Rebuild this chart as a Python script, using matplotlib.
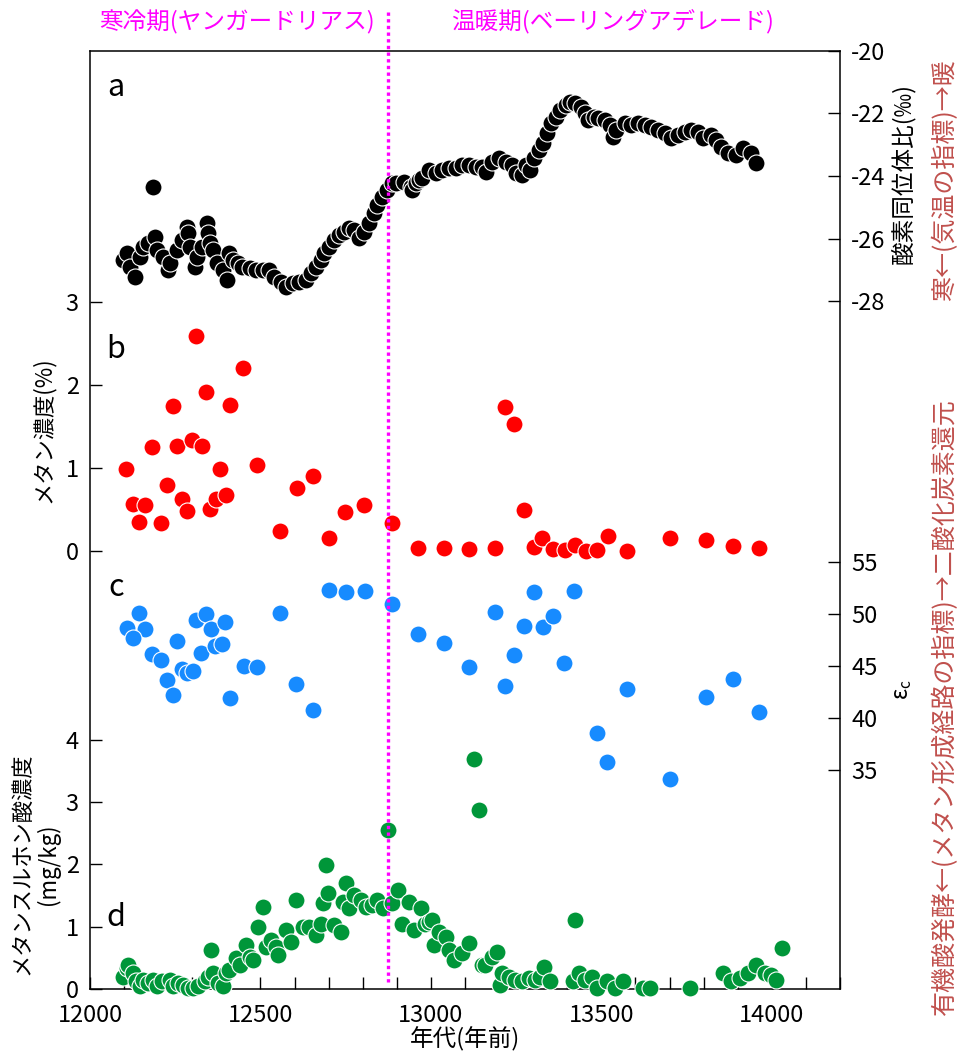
import matplotlib
matplotlib.use("Agg")
import matplotlib.pyplot as plt
import matplotlib.transforms as mtransforms
from matplotlib.lines import Line2D
from matplotlib.ticker import MultipleLocator

plt.rcParams['font.family'] = ['Noto Sans CJK JP', 'DejaVu Sans']
plt.rcParams['axes.unicode_minus'] = False

# a: oxygen isotope ratio (per mil)
years_a = [12096, 12108, 12117, 12132, 12146, 12155, 12170, 12184, 12190, 12196,
           12213, 12228, 12234, 12254, 12269, 12284, 12287, 12292, 12307, 12313,
           12327, 12342, 12345, 12351, 12360, 12371, 12389, 12401, 12409, 12418,
           12433, 12447, 12468, 12488, 12506, 12526, 12541, 12561, 12576, 12594,
           12614, 12634, 12649, 12664, 12678, 12687, 12702, 12716, 12731, 12746,
           12760, 12775, 12789, 12804, 12819, 12833, 12842, 12857, 12871, 12886,
           12898, 12921, 12942, 12944, 12956, 12965, 12974, 12994, 13015, 13032,
           13053, 13073, 13091, 13111, 13132, 13149, 13161, 13178, 13199, 13219,
           13237, 13249, 13266, 13278, 13292, 13301, 13316, 13330, 13339, 13351,
           13366, 13380, 13395, 13409, 13424, 13439, 13453, 13462, 13477, 13491,
           13512, 13526, 13535, 13544, 13570, 13588, 13608, 13629, 13646, 13667,
           13687, 13705, 13725, 13746, 13763, 13784, 13798, 13822, 13836, 13851,
           13871, 13895, 13915, 13939, 13953]
d18o = [-26.69, -26.46, -26.91, -27.23, -26.59, -26.27, -26.14, -24.35, -25.95, -26.37,
        -26.59, -27.01, -26.78, -26.37, -26.05, -25.63, -25.82, -26.27, -26.91, -26.59,
        -26.27, -25.50, -25.82, -26.14, -26.37, -26.78, -27.01, -27.33, -26.46, -26.69,
        -26.78, -26.91, -26.94, -27.01, -27.01, -27.01, -27.23, -27.39, -27.55, -27.42,
        -27.39, -27.33, -27.10, -26.91, -26.69, -26.46, -26.27, -26.05, -25.89, -25.79,
        -25.66, -25.73, -25.98, -25.79, -25.50, -25.18, -24.93, -24.67, -24.45, -24.22,
        -24.22, -24.19, -24.35, -24.45, -24.22, -24.13, -24.06, -23.81, -23.90, -23.81,
        -23.74, -23.74, -23.65, -23.65, -23.71, -23.71, -23.87, -23.55, -23.42, -23.55,
        -23.65, -23.90, -23.97, -23.65, -23.81, -23.42, -23.17, -22.94, -22.62, -22.30,
        -22.11, -21.89, -21.73, -21.63, -21.66, -21.79, -21.98, -22.21, -22.11, -22.14,
        -22.21, -22.37, -22.75, -22.53, -22.30, -22.37, -22.30, -22.37, -22.43, -22.53,
        -22.62, -22.78, -22.69, -22.59, -22.53, -22.59, -22.78, -22.69, -22.85, -23.07,
        -23.26, -23.33, -23.10, -23.26, -23.58]

# b: methane concentration (%)
years_b = [12105, 12125, 12144, 12161, 12183, 12207, 12226, 12242, 12255, 12271,
           12285, 12300, 12310, 12327, 12339, 12353, 12370, 12382, 12400, 12411,
           12450, 12490, 12558, 12606, 12653, 12702, 12749, 12805, 12887, 12963,
           13038, 13113, 13187, 13216, 13243, 13272, 13301, 13327, 13358, 13392,
           13423, 13455, 13488, 13518, 13574, 13701, 13808, 13885, 13962]
methane = [0.99, 0.57, 0.35, 0.55, 1.25, 0.34, 0.79, 1.75, 1.26, 0.63,
           0.48, 1.34, 2.59, 1.26, 1.92, 0.51, 0.62, 0.99, 0.67, 1.76,
           2.20, 1.04, 0.24, 0.76, 0.90, 0.16, 0.47, 0.55, 0.34, 0.04,
           0.03, 0.02, 0.03, 1.73, 1.53, 0.49, 0.05, 0.16, 0.02, 0.01,
           0.07, 0.00, 0.01, 0.18, 0.00, 0.16, 0.13, 0.06, 0.03]

# c: epsilon_c
years_c = [12144, 12107, 12161, 12125, 12183, 12208, 12255, 12227, 12242, 12271,
           12285, 12302, 12326, 12310, 12341, 12354, 12368, 12387, 12397, 12411,
           12451, 12490, 12558, 12605, 12653, 12702, 12750, 12806, 12887, 12963,
           13038, 13113, 13187, 13216, 13243, 13272, 13301, 13328, 13358, 13390,
           13421, 13486, 13517, 13574, 13701, 13808, 13885, 13962]
eps_c = [50.11, 48.67, 48.55, 47.71, 46.12, 45.58, 47.40, 43.66, 42.22, 44.68,
         44.30, 44.52, 46.22, 49.41, 49.96, 48.55, 46.95, 47.11, 49.25, 41.90,
         45.00, 44.88, 50.05, 43.24, 40.78, 52.29, 52.07, 52.19, 50.92, 48.04,
         47.23, 44.88, 50.21, 43.11, 46.05, 48.84, 52.07, 48.71, 49.82, 45.26,
         52.22, 38.61, 35.77, 42.80, 34.17, 42.06, 43.78, 40.59]

# d: methanesulfonic acid (mg/kg)
years_d = [12097, 12107, 12112, 12127, 12136, 12146, 12156, 12171, 12185, 12195,
           12210, 12234, 12244, 12258, 12273, 12287, 12302, 12317, 12336, 12346,
           12356, 12361, 12375, 12390, 12400, 12409, 12429, 12439, 12458, 12468,
           12477, 12492, 12507, 12517, 12531, 12546, 12551, 12575, 12590, 12604,
           12624, 12643, 12663, 12677, 12682, 12692, 12697, 12716, 12736, 12741,
           12751, 12760, 12775, 12794, 12809, 12828, 12843, 12858, 12875, 12887,
           12902, 12916, 12936, 12950, 12970, 12984, 12994, 13004, 13009, 13023,
           13043, 13053, 13067, 13092, 13111, 13126, 13140, 13150, 13160, 13179,
           13194, 13204, 13208, 13228, 13248, 13267, 13287, 13306, 13321, 13333,
           13350, 13418, 13423, 13433, 13452, 13472, 13486, 13516, 13540, 13564,
           13623, 13642, 13759, 13857, 13881, 13906, 13930, 13954, 13979, 13998,
           14013, 14030]
msa = [0.20, 0.33, 0.39, 0.25, 0.12, 0.04, 0.14, 0.09, 0.14, 0.04,
       0.12, 0.14, 0.04, 0.09, 0.06, 0.01, 0.01, 0.04, 0.12, 0.20,
       0.63, 0.25, 0.09, 0.04, 0.25, 0.30, 0.49, 0.39, 0.71, 0.52,
       0.47, 1.00, 1.32, 0.68, 0.79, 0.68, 0.55, 0.95, 0.76, 1.43,
       1.00, 1.00, 0.87, 1.05, 1.38, 1.99, 1.54, 1.03, 0.92, 1.40,
       1.70, 1.30, 1.51, 1.43, 1.32, 1.35, 1.43, 1.30, 2.55, 1.38,
       1.59, 1.05, 1.40, 0.95, 1.30, 1.05, 1.08, 1.11, 0.71, 0.92,
       0.84, 0.63, 0.47, 0.57, 0.73, 3.70, 2.87, 0.39, 0.39, 0.52,
       0.60, 0.06, 0.25, 0.20, 0.14, 0.12, 0.17, 0.14, 0.20, 0.36,
       0.12, 0.12, 1.11, 0.25, 0.14, 0.20, 0.01, 0.12, 0.01, 0.12,
       0.01, 0.01, 0.01, 0.25, 0.12, 0.17, 0.25, 0.39, 0.25, 0.22,
       0.14, 0.66]

boundary_year = 12875

fig = plt.figure(figsize=(9.61, 10.55), dpi=100)
ax = fig.add_axes([0.0937, 0.0626, 0.7804, 0.8891])

tick_kw = dict(direction='in', length=8.5, width=1.0, labelsize=17, pad=8)
dot_kw = dict(s=150, edgecolors='white', linewidths=0.8)

ax.set_xlim(12000, 14200)
ax.xaxis.set_major_locator(MultipleLocator(500))
ax.xaxis.set_minor_locator(MultipleLocator(100))
ax.tick_params(axis='x', which='both', **tick_kw)
ax.tick_params(axis='x', pad=11)
ax.set_xlabel('年代(年前)', fontsize=17, labelpad=0)
for s in ax.spines.values():
    s.set_linewidth(1.1)

# d on the main axes (left)
ax.set_ylim(0, 15.06)
ax.set_yticks([0, 1, 2, 3, 4])
ax.tick_params(axis='y', **tick_kw)
ax.scatter(years_d, msa, color='#009639', zorder=3, clip_on=False, **dot_kw)

# c (right)
ax_c = ax.twinx()
ax_c.set_ylim(14.03, 103.97)
ax_c.set_yticks([35, 40, 45, 50, 55])
ax_c.tick_params(axis='y', **tick_kw)
ax_c.scatter(years_c, eps_c, color='#178BFF', **dot_kw)

# b (left)
ax_b = ax.twinx()
ax_b.yaxis.tick_left()
ax_b.set_ylim(-5.277, 6.024)
ax_b.set_yticks([0, 1, 2, 3])
ax_b.tick_params(axis='y', **tick_kw)
ax_b.scatter(years_b, methane, color='#FF0000', **dot_kw)

# a (right)
ax_a = ax.twinx()
ax_a.set_ylim(-50, -20)
ax_a.set_yticks([-28, -26, -24, -22, -20])
ax_a.tick_params(axis='y', **tick_kw)
ax_a.scatter(years_a, d18o, color='black', **dot_kw)

for a in (ax_a, ax_b, ax_c):
    for s in a.spines.values():
        s.set_visible(False)

# boundary between cold and warm periods
trans = mtransforms.blended_transform_factory(ax.transData, fig.transFigure)
fig.add_artist(Line2D([boundary_year, boundary_year], [0.069, 0.989],
                      transform=trans, color='#FF00FF', lw=2.4,
                      linestyle=(0, (1, 1)), zorder=10))

W, H = 961, 1055
def ft(x, y, s, **kw):
    fig.text(x / W, 1 - y / H, s, ha='center', va='center', **kw)

ft(237, 22, '寒冷期(ヤンガードリアス)', color='#FF00FF', fontsize=17)
ft(612, 22, '温暖期(ベーリングアデレード)', color='#FF00FF', fontsize=17)

for letter, y in [('a', 88), ('b', 350), ('c', 587), ('d', 917)]:
    ft(116, y, letter, fontsize=22)

ft(43, 430, 'メタン濃度(%)', rotation=90, fontsize=16)
ft(35, 864, 'メタンスルホン酸濃度\n(mg/kg)', rotation=90, fontsize=16,
   multialignment='center', linespacing=1.1)
ft(903, 173, '酸素同位体比(‰)', rotation=90, fontsize=17)
ft(903, 690, 'ε$_\\mathregular{c}$', rotation=90, fontsize=16)
ft(945, 180, '寒←(気温の指標)→暖', rotation=90, fontsize=18, color='#C0504D')
ft(945, 707, '有機酸発酵←(メタン形成経路の指標)→二酸化炭素還元', rotation=90,
   fontsize=18, color='#C0504D')

fig.savefig('out.png', dpi=100)
